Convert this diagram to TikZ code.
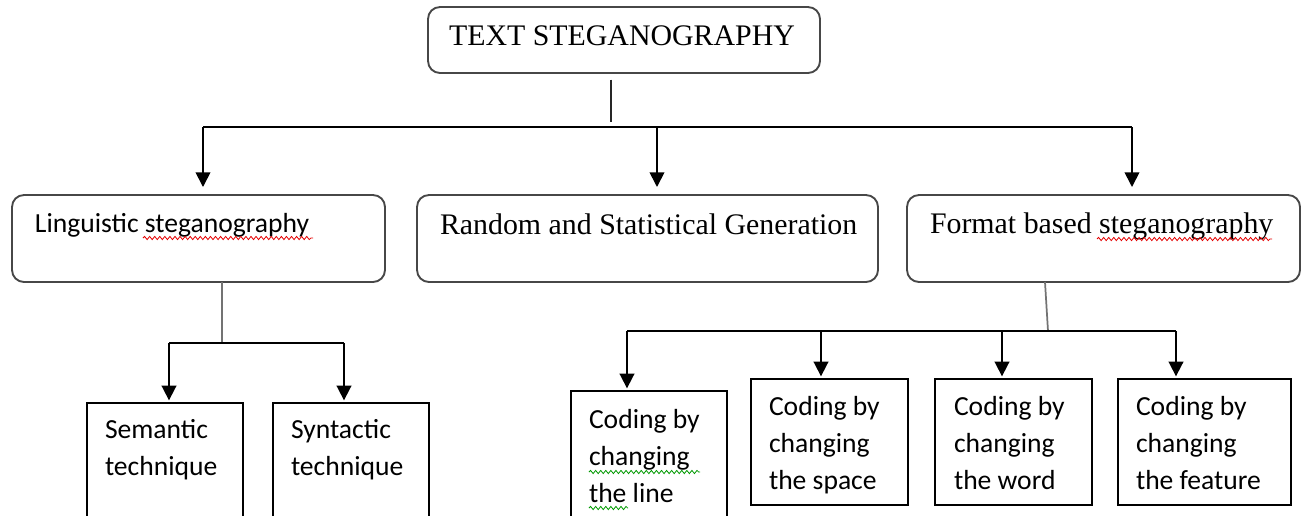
\documentclass[tikz,border=0pt]{standalone}
\usepackage{fontspec}
\setmainfont{Liberation Serif}
\newfontfamily\calfont{Carlito}
\usetikzlibrary{arrows.meta,decorations.pathmorphing,calc}

\begin{document}
\begin{tikzpicture}[
  x=0.75pt, y=-0.75pt,
  wh/.style 2 args={minimum width=#1*0.75pt, minimum height=#2*0.75pt},
  rbox/.style={draw=black!72, line width=1.4pt, rounded corners=9pt,
               inner sep=0pt, outer sep=0pt, anchor=north west},
  sbox/.style={draw=black, line width=1.5pt, inner sep=0pt, outer sep=0pt,
               anchor=north west},
  link/.style={draw=black, line width=1.3pt},
  stem/.style={draw=black!55, line width=1.3pt},
  arr/.style={link, -{Triangle[width=11pt,length=11pt]}},
  lab/.style={inner sep=0pt, outer sep=0pt, anchor=base west},
  serif/.style={lab, font=\fontsize{22.4}{26}\selectfont},
  sans/.style={lab, font=\calfont\fontsize{20.7}{27.75}\selectfont},
  squig/.style={decorate, decoration={snake, amplitude=1.2pt, segment length=3.8pt},
                line width=0.6pt},
]
\clip (0,0) rectangle (1304,515);
\fill[white] (0,0) rectangle (1304,515);

% boxes
\node[rbox, wh={392}{66}]  (top)    at (428,7)   {};
\node[rbox, wh={373}{87}]  (ling)   at (12,195)  {};
\node[rbox, wh={461}{87}]  (rand)   at (417,195) {};
\node[rbox, wh={393}{87}]  (form)   at (907,195) {};
\node[sbox, wh={156}{140}] (sem)    at (87,403)  {};
\node[sbox, wh={156}{140}] (syn)    at (273,403) {};
\node[sbox, wh={156}{140}] (cline)  at (571,391) {};
\node[sbox, wh={157}{126}] (cspace) at (751,379) {};
\node[sbox, wh={157}{126}] (cword)  at (935,379) {};
\node[sbox, wh={173}{126}] (cfeat)  at (1118,379) {};

% labels
\node[serif] (ttop)  at (449,45)  {TEXT STEGANOGRAPHY};
\node[sans]  (tling) at (35,232)  {Linguistic steganography};
\node[serif] (trand) at (440,234) {Random and Statistical Generation};
\node[serif] (tform) at (930,233) {Format based steganography};
\node[sans]  (tsem)  at (105,438) {\begin{tabular}[t]{@{}l@{}}Semantic\\technique\end{tabular}};
\node[sans]  (tsyn)  at (291,438) {\begin{tabular}[t]{@{}l@{}}Syntactic\\technique\end{tabular}};
\node[sans]  (tline) at (589,428) {\begin{tabular}[t]{@{}l@{}}Coding by\\changing\\the line\end{tabular}};
\node[sans]  (tspace) at (769,415) {\begin{tabular}[t]{@{}l@{}}Coding by\\changing\\the space\end{tabular}};
\node[sans]  (tword) at (954,415) {\begin{tabular}[t]{@{}l@{}}Coding by\\changing\\the word\end{tabular}};
\node[sans]  (tfeat) at (1136,415) {\begin{tabular}[t]{@{}l@{}}Coding by\\changing\\the feature\end{tabular}};

% spell-check underlines
\draw[squig, red!90!black]   (143,238) -- (313,238);
\draw[squig, red!90!black]   (1097,239) -- (1272,239);
\draw[squig, green!60!black] (589,472) -- (700,472);
\draw[squig, green!60!black] (589,508) -- (628,508);

% first level
\coordinate (hub)  at (611,122);
\coordinate (busL) at (203,127);
\coordinate (busM) at (657,127);
\coordinate (busR) at (1132,127);
\draw[link, draw=black!85] ([yshift=-5pt]top.south -| hub) -- (hub);
\draw[link] (busL) -- (busR);
\draw[arr, shorten >=6pt] (busL) -- (busL |- ling.north);
\draw[arr, shorten >=6pt] (busM) -- (busM |- rand.north);
\draw[arr, shorten >=6pt] (busR) -- (busR |- form.north);

% linguistic branch
\coordinate (lj) at (222,343);
\coordinate (lL) at (169,343);
\coordinate (lR) at (344,343);
\draw[stem] (ling.south -| lj) -- (lj);
\draw[link] (lL) -- (lR);
\draw[arr, shorten >=2pt] (lL) -- (lL |- sem.north);
\draw[arr, shorten >=2pt] (lR) -- (lR |- syn.north);

% format branch
\coordinate (fs) at (1045,282);
\coordinate (fj) at (1048,331);
\coordinate (f1) at (627,331);
\coordinate (f2) at (821,331);
\coordinate (f3) at (1002,331);
\coordinate (f4) at (1176,331);
\draw[stem] (fs) -- (fj);
\draw[link] (f1) -- (f4);
\draw[arr, shorten >=2pt] (f1) -- (f1 |- cline.north);
\draw[arr, shorten >=2pt] (f2) -- (f2 |- cspace.north);
\draw[arr, shorten >=2pt] (f3) -- (f3 |- cword.north);
\draw[arr, shorten >=2pt] (f4) -- (f4 |- cfeat.north);
\end{tikzpicture}
\end{document}
